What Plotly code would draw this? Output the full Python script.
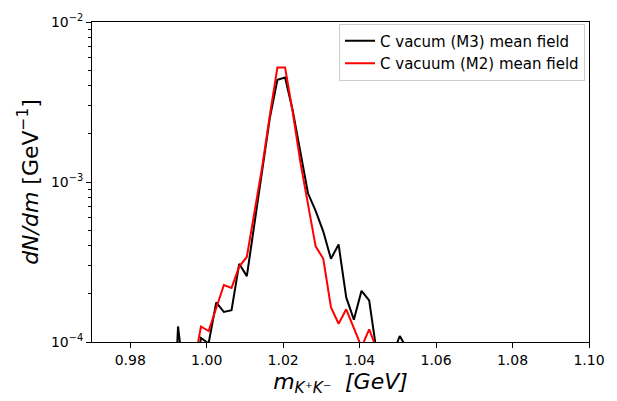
import plotly.graph_objects as go

# bin centres [GeV]
mass_black = [0.9905, 0.9925, 0.9945, 0.9965, 0.9985, 1.0005, 1.0025, 1.0045, 1.0065, 1.0085,
              1.0105, 1.0125, 1.0145, 1.0165, 1.0185, 1.0205, 1.0225, 1.0245, 1.0265, 1.0285,
              1.0305, 1.0325, 1.0345, 1.0365, 1.0385, 1.0405, 1.0425, 1.0445, 1.0465, 1.0485,
              1.0505, 1.0525, 1.0545]
dndm_black = [1e-5, 1.25e-4, 5e-5, 5e-5, 1.06e-4, 0.98e-4, 1.77e-4, 1.54e-4, 1.58e-4, 3.08e-4,
              2.58e-4, 5.5e-4, 1.2e-3, 2.5e-3, 4.35e-3, 4.5e-3, 2.8e-3, 1.53e-3, 8.5e-4, 6.6e-4,
              4.9e-4, 3.31e-4, 4.07e-4, 1.9e-4, 1.38e-4, 2.09e-4, 1.82e-4, 0.85e-4, 1e-5, 0.82e-4,
              1.09e-4, 0.9e-4, 1e-5]

mass_red = [0.9945, 0.9965, 0.9985, 1.0005, 1.0025, 1.0045, 1.0065, 1.0085, 1.0105, 1.0125,
            1.0145, 1.0165, 1.0185, 1.0205, 1.0225, 1.0245, 1.0265, 1.0285, 1.0305, 1.0325,
            1.0345, 1.0365, 1.0385, 1.0405, 1.0425, 1.0445, 1.0465]
dndm_red = [1e-5, 0.68e-4, 1.25e-4, 1.17e-4, 1.63e-4, 2.27e-4, 2.18e-4, 2.96e-4, 3.4e-4, 6.37e-4,
            1.24e-3, 2.6e-3, 5.2e-3, 5.2e-3, 2.74e-3, 1.33e-3, 7.3e-4, 3.96e-4, 3.31e-4, 1.65e-4,
            1.3e-4, 1.6e-4, 1.22e-4, 0.93e-4, 1.2e-4, 0.9e-4, 1e-5]

names = ["C vacum (M3) mean field", "C vacuum (M2) mean field"]
colors = ["black", "red"]

x_ticks = [0.98, 1.00, 1.02, 1.04, 1.06, 1.08, 1.10]
y_ticks = [1e-4, 1e-3, 1e-2]
y_ticktext = ["10<sup>−4</sup>", "10<sup>−3</sup>", "10<sup>−2</sup>"]
y_minor = [k * 10.0 ** e for e in (-4, -3) for k in range(2, 10)]

FONT = "DejaVu Sans"

fig = go.Figure()
fig.add_trace(go.Scatter(x=mass_black, y=dndm_black, mode="lines", name=names[0],
                         line=dict(color=colors[0], width=2)))
fig.add_trace(go.Scatter(x=mass_red, y=dndm_red, mode="lines", name=names[1],
                         line=dict(color=colors[1], width=2)))

fig.update_layout(
    width=617, height=401,
    margin=dict(l=92, r=21, t=15, b=55),
    paper_bgcolor="white", plot_bgcolor="white",
    font=dict(family=FONT, color="black", size=14),
    showlegend=True,
    legend=dict(x=0.992, y=0.995, xanchor="right", yanchor="top",
                bordercolor="#cccccc", borderwidth=1, bgcolor="white",
                font=dict(family=FONT, size=15), tracegroupgap=0, itemwidth=30),
)
fig.update_xaxes(
    range=[0.97, 1.10], tickmode="array", tickvals=x_ticks,
    ticktext=[f"{v:.2f}" for v in x_ticks],
    ticks="outside", ticklen=5, tickwidth=1, tickcolor="black",
    showline=True, linecolor="black", linewidth=1, mirror=True,
    showgrid=False, zeroline=False,
    tickfont=dict(size=14),
    title=dict(text="<i>m</i><sub><i>K⁺K⁻</i></sub>  <i>[GeV]</i>",
               font=dict(size=22), standoff=6),
)
fig.update_yaxes(
    type="log", range=[-4, -2], tickmode="array", tickvals=y_ticks, ticktext=y_ticktext,
    ticks="outside", ticklen=5, tickwidth=1, tickcolor="black",
    minor=dict(tickmode="array", tickvals=y_minor, ticks="outside", ticklen=3,
               tickcolor="black", showgrid=False),
    showline=True, linecolor="black", linewidth=1, mirror=True,
    showgrid=False, zeroline=False,
    tickfont=dict(size=14),
    title=dict(text="<i>dN/dm</i> [GeV<sup>−1</sup>]", font=dict(size=22), standoff=6),
)

fig.write_html("out.html")
